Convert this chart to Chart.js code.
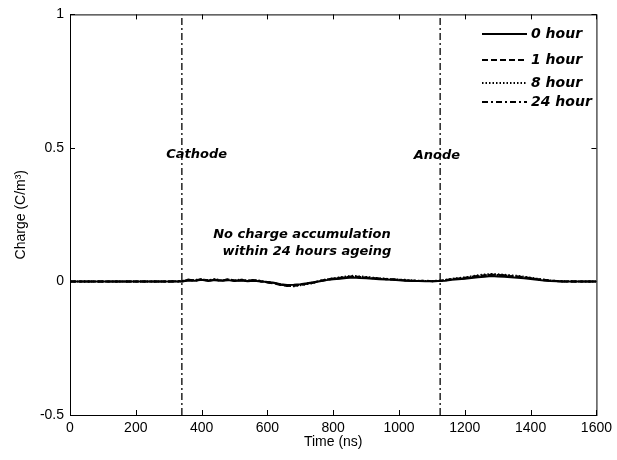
<!DOCTYPE html>
<html>
<head>
<meta charset="utf-8">
<script src="https://cdn.jsdelivr.net/npm/chart.js@4/dist/chart.umd.min.js"></script>
<style>
  html, body { margin: 0; padding: 0; background: #fff; }
  #wrap { width: 617px; height: 460px; }
</style>
</head>
<body>
<div id="wrap"><canvas id="chargeChart"></canvas></div>
<script>
// time axis (ns)
const times = [0, 100, 200, 300,
  340, 360, 380, 400, 420, 440, 460, 480, 500, 520,
  540, 560, 580, 600, 620, 640, 660, 680, 700, 720,
  740, 760, 780, 800, 820, 840, 860, 880, 900, 920,
  940, 960, 980, 1000, 1020, 1040, 1060, 1080, 1100, 1120,
  1140, 1160, 1180, 1200, 1220, 1240, 1260, 1280, 1300, 1320,
  1340, 1360, 1380, 1400, 1420, 1440, 1460, 1480, 1500,
  1550, 1600];

// charge density (C/m^3)
const hour0 = [0, 0, 0, 0,
  0.000, 0.004, 0.003, 0.006, 0.002, 0.005, 0.003, 0.005, 0.002, 0.004,
  0.001, 0.003, 0.000, -0.002, -0.005, -0.010, -0.013, -0.012, -0.010, -0.007,
  -0.003, 0.001, 0.005, 0.008, 0.010, 0.013, 0.015, 0.013, 0.012, 0.010,
  0.008, 0.007, 0.006, 0.005, 0.003, 0.002, 0.002, 0.001, 0.001, 0.002,
  0.003, 0.006, 0.008, 0.010, 0.013, 0.016, 0.018, 0.020, 0.019, 0.018,
  0.016, 0.014, 0.012, 0.009, 0.006, 0.004, 0.002, 0.001, 0.000,
  0, 0];
const hour1 = [0, 0, 0, 0,
  0.001, 0.007, 0.002, 0.009, 0.004, 0.007, 0.002, 0.008, 0.004, 0.006,
  0.003, 0.005, 0.001, -0.004, -0.007, -0.013, -0.017, -0.015, -0.013, -0.009,
  -0.005, 0.002, 0.007, 0.011, 0.014, 0.017, 0.019, 0.017, 0.015, 0.013,
  0.011, 0.009, 0.008, 0.006, 0.005, 0.003, 0.002, 0.003, 0.001, 0.002,
  0.005, 0.009, 0.011, 0.014, 0.017, 0.021, 0.023, 0.026, 0.024, 0.023,
  0.020, 0.019, 0.016, 0.013, 0.009, 0.006, 0.003, 0.002, 0.000,
  0, 0];
const hour8 = [0, 0, 0, 0,
  0.002, 0.005, 0.006, 0.007, 0.005, 0.008, 0.005, 0.006, 0.004, 0.007,
  0.003, 0.006, 0.002, -0.002, -0.006, -0.011, -0.016, -0.018, -0.014, -0.010,
  -0.005, 0.003, 0.008, 0.012, 0.015, 0.019, 0.021, 0.019, 0.017, 0.014,
  0.012, 0.010, 0.008, 0.007, 0.006, 0.004, 0.003, 0.002, 0.002, 0.003,
  0.006, 0.010, 0.013, 0.015, 0.019, 0.023, 0.026, 0.028, 0.027, 0.025,
  0.023, 0.021, 0.018, 0.014, 0.010, 0.007, 0.004, 0.002, 0.001,
  0, 0];
const hour24 = [0, 0, 0, 0,
  0.000, 0.006, 0.004, 0.008, 0.003, 0.006, 0.004, 0.007, 0.003, 0.005,
  0.002, 0.004, 0.000, -0.003, -0.006, -0.012, -0.015, -0.016, -0.012, -0.008,
  -0.004, 0.002, 0.006, 0.010, 0.012, 0.016, 0.018, 0.016, 0.014, 0.012,
  0.010, 0.008, 0.007, 0.006, 0.004, 0.003, 0.002, 0.002, 0.001, 0.002,
  0.004, 0.008, 0.010, 0.012, 0.016, 0.020, 0.022, 0.025, 0.024, 0.022,
  0.020, 0.018, 0.016, 0.012, 0.008, 0.005, 0.003, 0.001, 0.000,
  0, 0];

const seriesNames = ["0 hour", "1 hour", "8 hour", "24 hour"];
const electrodePos = [340, 1125];      // cathode, anode (ns)
const electrodeNames = ["Cathode", "Anode"];
const xTicks = [0, 200, 400, 600, 800, 1000, 1200, 1400, 1600];
const yTicks = [-0.5, 0, 0.5, 1];

const dashes = [[], [6, 3], [1.5, 2], [6, 3, 2, 3]];
const allSeries = [hour0, hour1, hour8, hour24];

function toPoints(ys) {
    return times.map((t, i) => ({ x: t, y: ys[i] }));
}

let datasets = allSeries.map((ys, i) => ({
    label: seriesNames[i],
    data: toPoints(ys),
    borderColor: "#000",
    borderWidth: 2,
    borderDash: dashes[i],
    pointRadius: 0,
    tension: 0
}));

// electrode marker lines
electrodePos.forEach(p => {
    datasets.push({
        label: "",
        data: [{ x: p, y: -0.5 }, { x: p, y: 1 }],
        borderColor: "#000",
        borderWidth: 1.3,
        borderDash: [7, 3, 2, 3],
        pointRadius: 0
    });
});

const BOLD_IT = "italic bold 13px 'DejaVu Sans'";

// box, inward ticks, legend and text labels drawn MATLAB style
const matlabLook = {
    id: "matlabLook",
    afterDraw(chart) {
        const { ctx, chartArea: a, scales } = chart;
        const x = scales.x, y = scales.y;
        ctx.save();
        ctx.strokeStyle = "#000";
        ctx.lineWidth = 1;
        ctx.setLineDash([]);
        ctx.strokeRect(a.left + 0.5, a.top + 0.5, a.width, a.height);

        const tl = 5;
        ctx.beginPath();
        xTicks.forEach(v => {
            const px = Math.round(x.getPixelForValue(v)) + 0.5;
            ctx.moveTo(px, a.bottom); ctx.lineTo(px, a.bottom - tl);
            ctx.moveTo(px, a.top); ctx.lineTo(px, a.top + tl);
        });
        yTicks.forEach(v => {
            const py = Math.round(y.getPixelForValue(v)) + 0.5;
            ctx.moveTo(a.left, py); ctx.lineTo(a.left + tl, py);
            ctx.moveTo(a.right, py); ctx.lineTo(a.right - tl, py);
        });
        ctx.stroke();

        // legend
        const legY = [34, 60, 83, 102];
        ctx.font = "italic bold 14px 'DejaVu Sans'";
        ctx.fillStyle = "#000";
        ctx.textBaseline = "middle";
        ctx.textAlign = "left";
        seriesNames.forEach((name, i) => {
            ctx.beginPath();
            ctx.setLineDash(dashes[i]);
            ctx.lineWidth = 1.8;
            ctx.moveTo(482, legY[i]);
            ctx.lineTo(527, legY[i]);
            ctx.stroke();
            ctx.setLineDash([]);
            ctx.fillText(name, 531, legY[i]);
        });

        // labels
        ctx.font = BOLD_IT;
        ctx.textAlign = "center";
        ctx.fillText(electrodeNames[0], x.getPixelForValue(385), y.getPixelForValue(0.475));
        ctx.fillText(electrodeNames[1], x.getPixelForValue(1115), y.getPixelForValue(0.472));
        ctx.fillText("No charge accumulation", x.getPixelForValue(705), y.getPixelForValue(0.175));
        ctx.fillText("within 24 hours ageing", x.getPixelForValue(720), y.getPixelForValue(0.112));
        ctx.restore();
    }
};

Chart.defaults.font.family = "'Liberation Sans', Arial, sans-serif";
Chart.defaults.font.size = 14;
Chart.defaults.color = "#000";

new Chart(document.getElementById("chargeChart"), {
    type: "line",
    data: { datasets: datasets },
    options: {
        responsive: true,
        maintainAspectRatio: false,
        animation: false,
        layout: { padding: { top: 11, right: 20, left: 0, bottom: 0 } },
        plugins: {
            legend: { display: false },
            tooltip: { enabled: false }
        },
        scales: {
            x: {
                type: "linear",
                min: 0, max: 1600,
                grid: { display: false, drawTicks: false },
                border: { display: false },
                afterBuildTicks: s => { s.ticks = xTicks.map(v => ({ value: v })); },
                afterFit: s => { s.height = 45; },
                ticks: { padding: 5, maxRotation: 0, callback: v => String(v) },
                title: { display: true, text: "Time (ns)", padding: { top: 0, bottom: 9 } }
            },
            y: {
                min: -0.5, max: 1,
                grid: { display: false, drawTicks: false },
                border: { display: false },
                afterBuildTicks: s => { s.ticks = yTicks.map(v => ({ value: v })); },
                afterFit: s => { s.width = 70; },
                ticks: { padding: 6, callback: v => String(v) },
                title: { display: true, text: "Charge (C/m³)", padding: { top: 13, bottom: 0 } }
            }
        }
    },
    plugins: [matlabLook]
});
</script>
</body>
</html>
